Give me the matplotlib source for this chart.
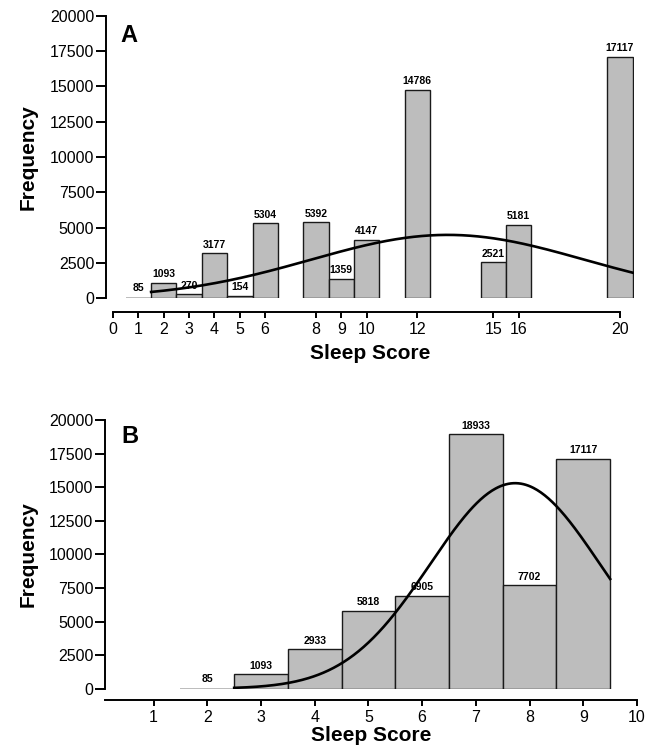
import numpy as np
import matplotlib.pyplot as plt

plt.rcParams['font.family'] = ['Liberation Sans', 'DejaVu Sans']

# Panel A: raw sleep scores
score_a = [1, 2, 3, 4, 5, 6, 8, 9, 10, 12, 15, 16, 20]
freq_a = [85, 1093, 270, 3177, 154, 5304, 5392, 1359, 4147, 14786, 2521, 5181, 17117]
xticks_a = [0, 1, 2, 3, 4, 5, 6, 8, 9, 10, 12, 15, 16, 20]

# Panel B: recoded sleep scores
score_b = [2, 3, 4, 5, 6, 7, 8, 9]
freq_b = [85, 1093, 2933, 5818, 6905, 18933, 7702, 17117]
xticks_b = [1, 2, 3, 4, 5, 6, 7, 8, 9, 10]

yticks = [0, 2500, 5000, 7500, 10000, 12500, 15000, 17500, 20000]

# fitted normal curves (mean, sd, x range)
curve_a = (13.2, 5.4, 1.5, 20.5)
curve_b = (7.73, 1.58, 2.5, 9.5)

bar_color = '#bdbdbd'


def normal_curve(ax, total, curve):
    mean, sd, start, end = curve
    x = np.linspace(start, end, 300)
    y = total / (sd * np.sqrt(2 * np.pi)) * np.exp(-0.5 * ((x - mean) / sd) ** 2)
    ax.plot(x, y, color='black', lw=1.9, zorder=3)


def draw_panel(ax, scores, freqs, curve, xticks, letter, letter_pos, out_pts):
    # the tiny 85 bar is practically invisible in the original, so no outline there
    edges = [1.0 if f > 100 else 0 for f in freqs]
    ax.bar(scores, freqs, width=1.0, color=bar_color, edgecolor='#1a1a1a', linewidth=edges, zorder=2)
    for s, f in zip(scores, freqs):
        ax.annotate(str(f), (s, f), xytext=(0, 2.5), textcoords='offset points',
                    ha='center', va='bottom', fontsize=7.5, fontweight='bold')
    normal_curve(ax, sum(freqs), curve)

    ax.set_ylim(0, 20000)
    ax.set_yticks(yticks)
    ax.set_xticks(xticks)
    ax.tick_params(axis='both', labelsize=11.5, width=1.4, direction='out')
    ax.tick_params(axis='y', length=7, pad=1.5)
    ax.tick_params(axis='x', length=4, pad=3)

    for side in ['top', 'right']:
        ax.spines[side].set_visible(False)
    ax.spines['left'].set_linewidth(1.4)
    ax.spines['bottom'].set_linewidth(1.4)
    ax.spines['left'].set_bounds(0, 20000)
    ax.spines['bottom'].set_position(('outward', out_pts))

    ax.set_ylabel('Frequency', fontsize=15, fontweight='bold')
    ax.set_xlabel('Sleep Score', fontsize=15, fontweight='bold')
    ax.text(letter_pos[0], letter_pos[1], letter, transform=ax.transAxes,
            fontsize=17, fontweight='bold', va='baseline')


fig = plt.figure(figsize=(6.54, 7.56), dpi=100)

ax_a = fig.add_axes([106 / 654, 458 / 756, 528 / 654, 282 / 756])
draw_panel(ax_a, score_a, freq_a, curve_a, xticks_a, 'A', (0.028, 0.908), 10)
ax_a.set_xlim(-0.28, 20.55)
ax_a.spines['bottom'].set_bounds(0, 20)
ax_a.yaxis.set_label_coords(-0.129, 0.5)
ax_a.xaxis.set_label_coords(0.5, -0.163)

ax_b = fig.add_axes([105.3 / 654, 67.3 / 756, 531.7 / 654, 268.7 / 756])
draw_panel(ax_b, score_b, freq_b, curve_b, xticks_b, 'B', (0.0295, 0.914), 8)
ax_b.set_xlim(0.1, 10)
ax_b.yaxis.set_label_coords(-0.127, 0.5)
ax_b.xaxis.set_label_coords(0.5, -0.139)

fig.savefig('out.png', dpi=100)
